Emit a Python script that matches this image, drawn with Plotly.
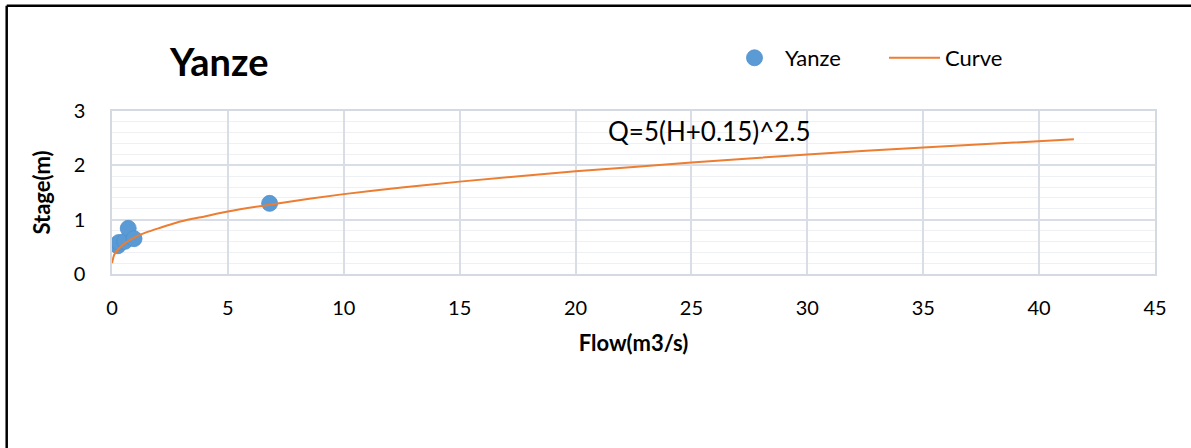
import plotly.graph_objects as go

# Observed gauging points (Flow m3/s, Stage m)
obs_flow = [0.25, 0.30, 0.55, 0.70, 0.95, 6.8]
obs_stage = [0.52, 0.58, 0.60, 0.84, 0.65, 1.30]

# Rating curve
curve_flow = [0.0, 0.1, 0.3, 0.6, 1.0, 1.5, 2.0, 3.0, 4.0, 5.0, 7.0, 10.0,
              12.5, 15.0, 20.0, 25.0, 30.0, 35.0, 41.5]
curve_stage = [0.20, 0.36, 0.47, 0.58, 0.68, 0.77, 0.84, 0.97, 1.06, 1.15, 1.29,
               1.47, 1.59, 1.70, 1.89, 2.05, 2.20, 2.33, 2.48]

x_ticks = [0, 5, 10, 15, 20, 25, 30, 35, 40, 45]
y_ticks = [0, 1, 2, 3]

FONT = "Lato"
W, H = 1191, 448
ML, MR, MT, MB = 112, 36, 111, 174
pw, ph = W - ML - MR, H - MT - MB

def px_x(p):
    return (p - ML) / pw

def px_y(p):
    return (H - MB - p) / ph

fig = go.Figure()
fig.add_trace(go.Scatter(
    x=obs_flow, y=obs_stage, mode="markers", name="Yanze",
    marker=dict(size=16, color="#5b9bd5", line=dict(width=0.8, color="#4f8fcc")),
))
fig.add_trace(go.Scatter(
    x=curve_flow, y=curve_stage, mode="lines", name="Curve",
    line=dict(color="#ed7d31", width=2, shape="spline", smoothing=0.6),
))

axis_common = dict(
    showline=True, mirror=True, linecolor="#d5d9e2", linewidth=1.5,
    gridcolor="#d9dde5", gridwidth=1.5, zeroline=False,
    tickfont=dict(family=FONT, size=20, color="#000000"),
    ticks="",
)

fig.update_xaxes(
    range=[0, 45], tickvals=x_ticks, ticktext=[str(v) for v in x_ticks],
    ticklabelstandoff=15,
    title=dict(text="<b>Flow(m3/s)</b>", font=dict(family=FONT, size=22, color="#000000"), standoff=18),
    **axis_common,
)
fig.update_yaxes(
    range=[0, 3], tickvals=y_ticks, ticktext=[str(v) for v in y_ticks],
    ticklabelstandoff=21,
    minor=dict(dtick=0.2, showgrid=True, gridcolor="#eef0f3", gridwidth=1.2),
    title=dict(text="<b>Stage(m)</b>", font=dict(family=FONT, size=22, color="#000000"), standoff=17),
    **axis_common,
)

fig.add_annotation(
    x=25.8, y=2.63, xref="x", yref="y", text="Q=5(H+0.15)^2.5", showarrow=False,
    xanchor="center", yanchor="middle",
    font=dict(family=FONT, size=26, color="#000000"),
)
fig.add_annotation(
    x=px_x(218), y=px_y(61), xref="paper", yref="paper", text="<b>Yanze</b>",
    showarrow=False, xanchor="center", yanchor="middle",
    font=dict(family=FONT, size=38, color="#000000"),
)

# chart frame (left and top edges visible)
fx, fy = px_x(6.7), px_y(5.8)
fig.add_shape(type="line", xref="paper", yref="paper", x0=fx, x1=px_x(1200), y0=fy, y1=fy,
              line=dict(color="#000000", width=2.5))
fig.add_shape(type="line", xref="paper", yref="paper", x0=fx, x1=fx, y0=fy, y1=px_y(460),
              line=dict(color="#000000", width=2.5))

fig.update_layout(
    width=W, height=H, autosize=False,
    margin=dict(l=ML, r=MR, t=MT, b=MB, autoexpand=False),
    paper_bgcolor="white", plot_bgcolor="white",
    font=dict(family=FONT, color="#000000"),
    showlegend=True,
    legend=dict(
        orientation="h", xref="paper", yref="paper",
        x=px_x(724), y=px_y(58), xanchor="left", yanchor="middle",
        font=dict(family=FONT, size=22, color="#000000"),
        itemwidth=51,
        entrywidth=94, entrywidthmode="pixels", bgcolor="rgba(0,0,0,0)",
    ),
)

fig.write_html("out.html")
